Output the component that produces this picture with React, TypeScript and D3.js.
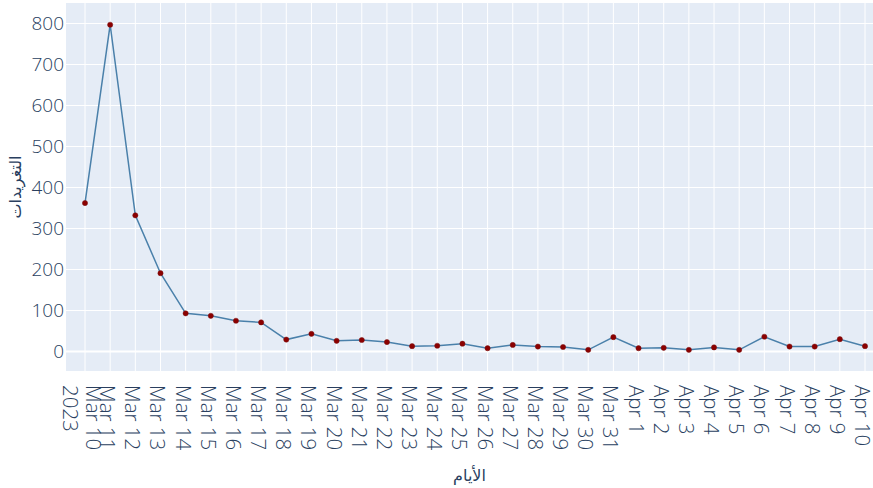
import React from "react";
import * as d3 from "d3";

const dates: string[] = [
  "2023-03-10", "2023-03-11", "2023-03-12", "2023-03-13", "2023-03-14", "2023-03-15",
  "2023-03-16", "2023-03-17", "2023-03-18", "2023-03-19", "2023-03-20", "2023-03-21",
  "2023-03-22", "2023-03-23", "2023-03-24", "2023-03-25", "2023-03-26", "2023-03-27",
  "2023-03-28", "2023-03-29", "2023-03-30", "2023-03-31", "2023-04-01", "2023-04-02",
  "2023-04-03", "2023-04-04", "2023-04-05", "2023-04-06", "2023-04-07", "2023-04-08",
  "2023-04-09", "2023-04-10",
];
const tweets: number[] = [
  362, 797, 332, 191, 93, 87, 75, 71, 29, 43, 26, 28, 23, 13, 14, 19,
  8, 16, 12, 11, 4, 35, 8, 9, 4, 10, 4, 36, 12, 12, 30, 13,
];
const yTicks: number[] = [0, 100, 200, 300, 400, 500, 600, 700, 800];
const xTitle = "الأيام";
const yTitle = "التغريدات";

const W = 873;
const H = 488;
const plotLeft = 66;
const plotRight = 873;
const plotTop = 3;
const plotBottom = 371;
const FONT = "'Open Sans', 'DejaVu Sans', sans-serif";
const TXT = "#2a3f5f";

export default function App() {
  const parse = d3.utcParse("%Y-%m-%d");
  const pts = dates.map((d, i) => ({ date: parse(d) as Date, v: tweets[i] }));
  const first = pts[0].date;
  const last = pts[pts.length - 1].date;
  const x = d3.scaleUtc().domain([first, last]).range([85, 865]);
  const y = d3.scaleLinear().domain([-47.6, 850]).range([plotBottom, plotTop]);
  const line = d3
    .line<{ date: Date; v: number }>()
    .x((d) => x(d.date))
    .y((d) => y(d.v));
  const fmt = d3.utcFormat("%b %-d");

  return (
    <svg
      width={W}
      height={H}
      style={{ position: "absolute", left: 0, top: 0, background: "#fff" }}
      fontFamily={FONT}
    >
      <rect
        x={plotLeft}
        y={plotTop}
        width={plotRight - plotLeft}
        height={plotBottom - plotTop}
        fill="#E5ECF6"
      />
      {pts.map((p, i) => (
        <line
          key={"vg" + i}
          x1={x(p.date)}
          x2={x(p.date)}
          y1={plotTop}
          y2={plotBottom}
          stroke="#fff"
          strokeWidth={1}
        />
      ))}
      {yTicks.map((t) => (
        <line
          key={"hg" + t}
          x1={plotLeft}
          x2={plotRight}
          y1={y(t)}
          y2={y(t)}
          stroke="#fff"
          strokeWidth={t === 0 ? 2 : 1}
        />
      ))}
      <path d={line(pts) || ""} fill="none" stroke="#4a80aa" strokeWidth={1.5} />
      {pts.map((p, i) => (
        <circle
          key={"pt" + i}
          cx={x(p.date)}
          cy={y(p.v)}
          r={2.6}
          fill="#8B0000"
          stroke="#7a1010"
          strokeWidth={0.5}
        />
      ))}
      {yTicks.map((t) => (
        <text
          key={"yt" + t}
          x={64}
          y={y(t) + 7}
          textAnchor="end"
          fontSize={19}
          fontWeight={300}
          fill={TXT}
        >
          {t}
        </text>
      ))}
      {pts.map((p, i) => {
        const xx = x(p.date);
        if (i === 0) {
          return (
            <g key={"xt" + i} transform={`translate(${xx},385) rotate(90)`}>
              <text x={0} y={-1} fontSize={20.5} fontWeight={300} fill={TXT}>
                {fmt(p.date)}
              </text>
              <text x={0} y={22} fontSize={20.5} fontWeight={300} fill={TXT}>
                {d3.utcFormat("%Y")(p.date)}
              </text>
            </g>
          );
        }
        return (
          <g key={"xt" + i} transform={`translate(${xx},385) rotate(90)`}>
            <text x={0} y={10} fontSize={20.5} fontWeight={300} fill={TXT}>
              {fmt(p.date)}
            </text>
          </g>
        );
      })}
      <text
        x={(plotLeft + plotRight) / 2}
        y={481}
        textAnchor="middle"
        fontSize={16}
        fill={TXT}
      >
        {xTitle}
      </text>
      <text
        transform={`translate(21,${(plotTop + plotBottom) / 2}) rotate(-90)`}
        textAnchor="middle"
        fontSize={16}
        fill={TXT}
      >
        {yTitle}
      </text>
    </svg>
  );
}
